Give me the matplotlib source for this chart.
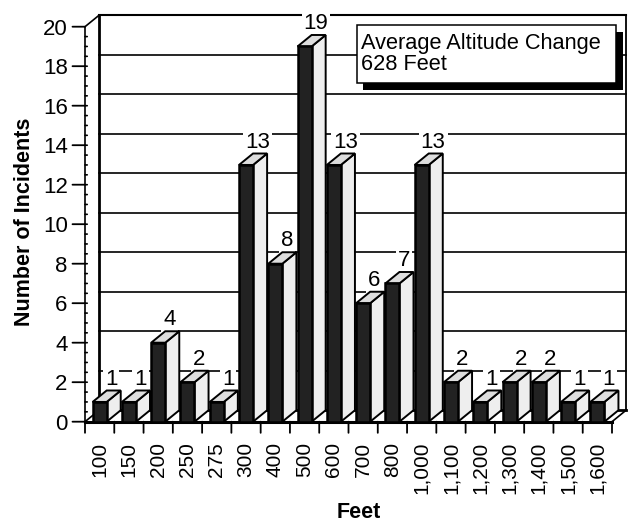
import matplotlib
matplotlib.use('Agg')
import matplotlib.pyplot as plt
from matplotlib.patches import Polygon, Rectangle
import numpy as np

plt.rcParams['font.family'] = ['Liberation Sans', 'DejaVu Sans']

categories = ['100', '150', '200', '250', '275', '300', '400', '500', '600', '700', '800',
              '1,000', '1,100', '1,200', '1,300', '1,400', '1,500', '1,600']
incidents = [1, 1, 4, 2, 1, 13, 8, 19, 13, 6, 7, 13, 2, 1, 2, 2, 1, 1]
y_ticks = list(range(0, 21, 2))

W, H = 636, 523
# 3D depth of the chart in data units
DX = 0.48
DY = 0.58
BAR_W = 0.48

fig = plt.figure(figsize=(W / 100, H / 100), dpi=100, facecolor='white')
ax = fig.add_axes([85 / W, 1 - 421.7 / H, (612 - 85) / W, (421.7 - 26.7) / H])
n = len(categories)
ax.set_xlim(0, n)
ax.set_ylim(0, 20)
ax.axis('off')

def line(xs, ys, lw=1.2, z=1):
    ax.plot(xs, ys, color='black', lw=lw, clip_on=False, zorder=z, solid_capstyle='projecting')

# back wall and gridlines
for v in y_ticks[1:]:
    line([DX, n + DX], [v + DY, v + DY], lw=1.2 if v < 20 else 1.5)
line([DX, DX], [DY, 20 + DY], lw=2.0)
line([n + DX, n + DX], [DY, 20 + DY], lw=1.3)
# left wall
line([0, 0], [0, 20], lw=1.2, z=5)
line([0, DX], [20, 20 + DY], lw=1.2)
line([0, DX], [0, DY], lw=1.2)
# floor
line([n, n + DX], [0, DY], lw=1.2)
line([DX, n + DX], [DY, DY], lw=2.0)
line([0, n], [0, 0], lw=2.2, z=6)

# value labels mask the gridlines, bars go on top of the masks
for i, v in enumerate(incidents):
    ax.text(i + 0.5 + DX / 2 + 0.15, v + DY + 0.05, str(v), ha='center', va='bottom', fontsize=16,
            color='black', zorder=2, clip_on=False,
            bbox=dict(facecolor='white', edgecolor='none', pad=1.5))

# bars
for i, v in enumerate(incidents):
    x0 = i + 0.5 - BAR_W / 2
    x1 = x0 + BAR_W
    z = 10 + i
    ax.add_patch(Polygon([(x1, 0), (x1 + DX, DY), (x1 + DX, v + DY), (x1, v)], closed=True,
                         facecolor='#eeeeee', edgecolor='black', lw=1.4, zorder=z, clip_on=False))
    ax.add_patch(Polygon([(x0, v), (x0 + DX, v + DY), (x1 + DX, v + DY), (x1, v)], closed=True,
                         facecolor='#dddddd', edgecolor='black', lw=1.4, zorder=z, clip_on=False))
    ax.add_patch(Rectangle((x0, 0), BAR_W, v, facecolor='#222222', edgecolor='black', lw=1.8,
                           zorder=z, clip_on=False))

# y axis ticks
for v in y_ticks:
    ax.annotate('', xy=(0, v), xytext=(-9, 0), textcoords='offset points', annotation_clip=False,
                arrowprops=dict(arrowstyle='-', lw=1.3, color='black', shrinkA=0, shrinkB=0))
    ax.annotate(str(v), xy=(0, v), xytext=(-12.5, 0), textcoords='offset points', ha='right',
                va='center_baseline', fontsize=16, annotation_clip=False)
for v in np.arange(0, 20, 0.5):
    ax.annotate('', xy=(0, v), xytext=(1.6, 0), textcoords='offset points', annotation_clip=False,
                arrowprops=dict(arrowstyle='-', lw=1.2, color='black', shrinkA=0, shrinkB=0))

# x axis ticks
for i in range(n + 1):
    ax.annotate('', xy=(i, 0), xytext=(0, -8), textcoords='offset points', annotation_clip=False,
                arrowprops=dict(arrowstyle='-', lw=1.3, color='black', shrinkA=0, shrinkB=0))
for i, c in enumerate(categories):
    ax.annotate(c, xy=(i + 0.5, 0), xytext=(0, -14.5), textcoords='offset points', rotation=90,
                ha='center', va='top', fontsize=15, annotation_clip=False)

fig.text(359 / W, 1 - 517.5 / H, 'Feet', ha='center', va='baseline', fontsize=15.5, fontweight='bold')
fig.text(25 / W, 1 - 222 / H, 'Number of Incidents', ha='center', va='center', rotation=90,
         fontsize=15.5, fontweight='bold')

# callout with drop shadow
fig.add_artist(Rectangle((363 / W, 1 - 90 / H), 260 / W, 58 / H, transform=fig.transFigure,
                         facecolor='black', edgecolor='none', zorder=20))
fig.add_artist(Rectangle((357 / W, 1 - 83 / H), 259 / W, 58 / H, transform=fig.transFigure,
                         facecolor='white', edgecolor='black', lw=1.1, zorder=21))
fig.text(361 / W, 1 - 54 / H, 'Average Altitude Change\n628 Feet', ha='left', va='center',
         fontsize=15.7, linespacing=1.0, zorder=22)

fig.savefig('out.png', dpi=100, facecolor='white')
